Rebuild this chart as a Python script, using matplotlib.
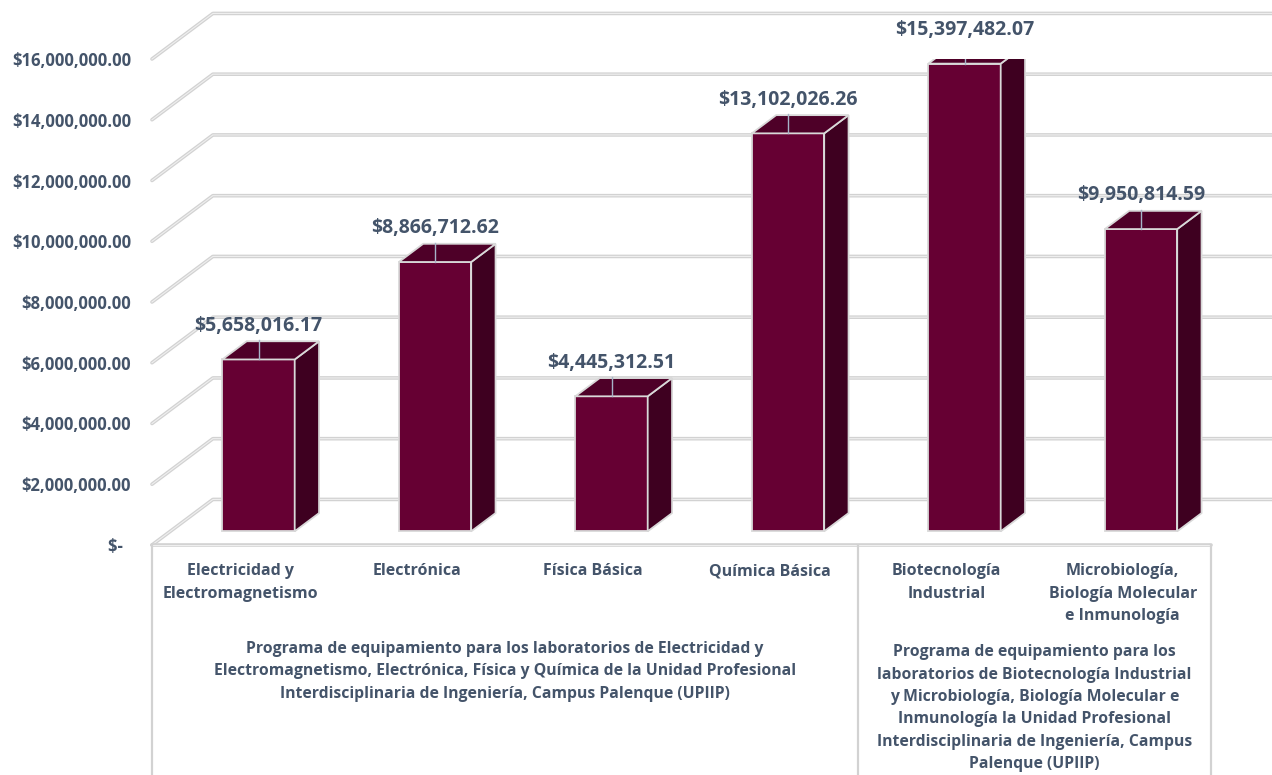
import matplotlib
matplotlib.use("Agg")
import matplotlib.pyplot as plt
from matplotlib.patches import Polygon

# data
categories = ["Electricidad y\nElectromagnetismo", "Electrónica", "Física Básica",
              "Química Básica", "Biotecnología\nIndustrial",
              "Microbiología,\nBiología Molecular\ne Inmunología"]
values = [5658016.17, 8866712.62, 4445312.51, 13102026.26, 15397482.07, 9950814.59]
groups = ["Programa de equipamiento para los laboratorios de Electricidad y\n"
          "Electromagnetismo, Electrónica, Física y Química de la Unidad Profesional\n"
          "Interdisciplinaria de Ingeniería, Campus Palenque (UPIIP)",
          "Programa de equipamiento para los\nlaboratorios de Biotecnología Industrial\n"
          "y Microbiología, Biología Molecular e\nInmunología la Unidad Profesional\n"
          "Interdisciplinaria de Ingeniería, Campus\nPalenque (UPIIP)"]
group_spans = [(0, 3), (4, 5)]
yticks = [0, 2e6, 4e6, 6e6, 8e6, 10e6, 12e6, 14e6, 16e6]

txt = "#44546A"
front_col = "#660033"
side_col = "#3E0020"
top_col = "#4E0028"
edge_col = "#D9D9D9"
grid_col = "#D2D2D2"

plt.rcParams["font.family"] = ["Open Sans", "DejaVu Sans"]
plt.rcParams["font.weight"] = "bold"

fig = plt.figure(figsize=(12.72, 7.75), dpi=100)
# axes = front plane of the 3d box
ax = fig.add_axes([152 / 1272, 230 / 775, (1211 - 152) / 1272, 486 / 775])
ax.set_xlim(-0.5, 5.5)
ax.set_ylim(0, 16e6)
for s in ax.spines.values():
    s.set_visible(False)
ax.set_xticks([])

DX = 0.345   # depth offset in category units
DY = 1.5e6   # depth offset in value units
d1, d2 = 0.3, 0.7
w = 0.41

# gridlines (front-left diagonal + back wall)
for v in yticks:
    xs = [-0.5, -0.5 + DX, 6.2]
    ys = [v, v + DY, v + DY]
    ax.plot(xs, ys, color=grid_col, lw=2.6, clip_on=False, zorder=1,
            solid_capstyle="round", solid_joinstyle="round")
    ax.plot(xs, ys, color="#EFEFEF", lw=0.8, clip_on=False, zorder=1)
# floor front edge
ax.plot([-0.5, 5.5], [0, 0], color=grid_col, lw=2.6, clip_on=False, zorder=1,
        solid_capstyle="round")
ax.plot([-0.5, 5.5], [0, 0], color="#EFEFEF", lw=0.8, clip_on=False, zorder=1)

ax.set_yticks(yticks)
ax.set_yticklabels(["$-  "] + ["${:,.2f}".format(v) for v in yticks[1:]],
                   color=txt, fontsize=12, fontweight="bold")
ax.tick_params(axis="y", length=0, pad=15)

# bars
for i, v in enumerate(values):
    xc = i + d1 * DX
    ax.bar(xc, v, width=w, bottom=d1 * DY, color=front_col,
           edgecolor=edge_col, linewidth=1.3, zorder=3)
    x0 = xc - w / 2
    x1 = xc + w / 2
    y0 = d1 * DY
    y1 = v + d1 * DY
    ddx = (d2 - d1) * DX
    ddy = (d2 - d1) * DY
    side = Polygon([(x1, y0), (x1 + ddx, y0 + ddy), (x1 + ddx, y1 + ddy), (x1, y1)],
                   closed=True, facecolor=side_col, edgecolor=edge_col, lw=1.3, zorder=3)
    top = Polygon([(x0, y1), (x1, y1), (x1 + ddx, y1 + ddy), (x0 + ddx, y1 + ddy)],
                  closed=True, facecolor=top_col, edgecolor=edge_col, lw=1.3, zorder=3)
    ax.add_patch(side)
    ax.add_patch(top)
    # leader line and label
    ax.plot([xc, xc], [y1, y1 + ddy * 1.05], color="#A6B4C8", lw=1.0, zorder=4)
    ax.annotate("${:,.2f}".format(v), xy=(xc, y1 + ddy), xytext=(0, 4),
                textcoords="offset points", ha="center", va="bottom",
                color=txt, fontsize=14, fontweight="bold", zorder=5,
                annotation_clip=False)

# category labels
for i, c in enumerate(categories):
    ax.annotate(c, xy=(i, 0), xytext=(0, -13), textcoords="offset points",
                ha="center", va="top", multialignment="center", color=txt,
                fontsize=11.5, fontweight="bold", linespacing=1.55,
                annotation_clip=False)

# group box lines and labels
for x in [-0.5, 3.5, 5.5]:
    ax.plot([x, x], [0, -8e6], color=grid_col, lw=1.6, clip_on=False, zorder=1)
offs = [-69, -71.5]
for (a, b), g, o in zip(group_spans, groups, offs):
    ax.annotate(g, xy=((a + b) / 2, 0), xytext=(0, o), textcoords="offset points",
                ha="center", va="top", multialignment="center", color=txt,
                fontsize=11.3, fontweight="bold", linespacing=1.53,
                annotation_clip=False)

fig.savefig("out.png", dpi=100)
